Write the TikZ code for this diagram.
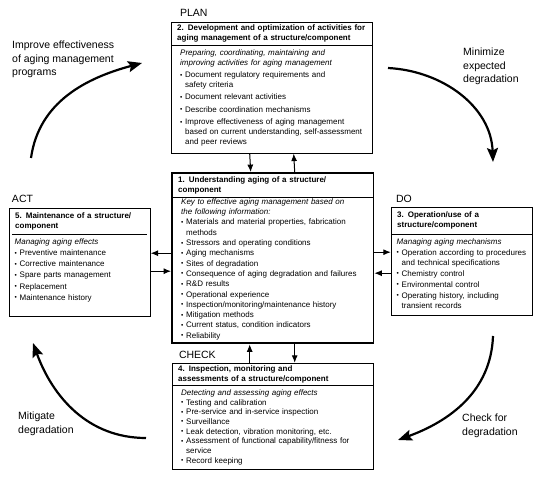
\documentclass[tikz,border=0pt]{standalone}
\usepackage{fontspec}
\setmainfont{Liberation Sans}
\usetikzlibrary{arrows.meta, positioning, fit}

\newcommand{\itm}{\par\hangindent=5pt\hangafter=1\noindent\hbox to 5pt{\raisebox{0.5pt}{\fontsize{6.5}{6.5}\selectfont\textbullet}\hfil}}
\newcommand{\lead}[1]{\noindent\textit{#1}}
\newcommand{\bodyspacing}[2]{\fontsize{8}{#1}\selectfont\setlength{\parskip}{#2}}

\begin{document}
\begin{tikzpicture}[
  x=1pt, y=1pt,
  ttl/.style={rectangle, inner xsep=6pt, inner ysep=1pt, text width=#1, align=left,
              font=\fontsize{8}{10}\selectfont\bfseries, anchor=north west},
  bdy/.style={rectangle, inner xsep=9pt, inner ysep=4pt, text width=#1, align=left,
              font=\fontsize{8}{10}\selectfont, anchor=north},
  frame/.style={rectangle, draw, inner sep=0pt},
  mainframe/.style={frame, line width=1.8pt},
  phase/.style={inner sep=0pt, font=\fontsize{10.5}{12}\selectfont},
  note/.style={inner sep=0pt, align=left, anchor=north west,
               font=\fontsize{10.5}{13.5}\selectfont},
  arrow/.style={-{Latex[length=7.5pt, width=6pt]}, line width=1pt},
  bigarrow/.style={-{Stealth[length=14pt, width=11pt, inset=2.5pt]}, line width=2.2pt}
]
\useasboundingbox (0,0) rectangle (550,477);

\node[ttl=189pt, minimum height=24pt] (t1) at (172,304) {1. Understanding aging of a structure/\\component};
\node[bdy=183pt, inner ysep=1pt, below=0pt of t1] (b1) {\bodyspacing{10.3pt}{0pt}%
  \lead{Key to effective aging management based on\newline the following information:}%
  \itm Materials and material properties, fabrication\newline methods
  \itm Stressors and operating conditions
  \itm Aging mechanisms
  \itm Sites of degradation
  \itm Consequence of aging degradation and failures
  \itm R\&D results
  \itm Operational experience
  \itm Inspection/monitoring/maintenance history
  \itm Mitigation methods
  \itm Current status, condition indicators
  \itm Reliability\par};
\coordinate (e1) at ([yshift=-146pt]t1.south);
\node[mainframe, fit=(t1)(b1)(e1)] (f1) {};
\draw (t1.south west) -- (t1.south east);

\node[ttl=189pt, minimum height=23pt] (t2) at (171,455) {2. Development and optimization of activities for\\aging management of a structure/component};
\node[bdy=183pt, below=0pt of t2] (b2) {\bodyspacing{10pt}{2.3pt}%
  \lead{Preparing, coordinating, maintaining and\newline improving activities for aging management}%
  \itm Document regulatory requirements and\newline safety criteria
  \itm Document relevant activities
  \itm Describe coordination mechanisms
  \itm Improve effectiveness of aging management\newline based on current understanding, self-assessment\newline and peer reviews\par};
\coordinate (e2) at ([yshift=-108pt]t2.south);
\node[frame, fit=(t2)(b2)(e2)] (f2) {};
\draw (t2.south west) -- (t2.south east);

\node[ttl=129pt, inner xsep=3pt, minimum height=26pt] (t5) at (12,269) {5. Maintenance of a structure/\\component};
\node[bdy=130pt, inner xsep=5.5pt, below=0pt of t5] (b5) {\bodyspacing{11.2pt}{0pt}%
  \lead{Managing aging effects}%
  \itm Preventive maintenance
  \itm Corrective maintenance
  \itm Spare parts management
  \itm Replacement
  \itm Maintenance history\par};
\coordinate (e5) at ([yshift=-82pt]t5.south);
\node[frame, fit=(t5)(b5)(e5)] (f5) {};
\draw (t5.south west) -- (t5.south east);

\node[ttl=129pt, inner xsep=6pt, minimum height=27pt] (t3) at (391,270) {3. Operation/use of a\\structure/component};
\node[bdy=130pt, inner xsep=5.5pt, below=0pt of t3] (b3) {\bodyspacing{10.5pt}{0.3pt}%
  \lead{Managing aging mechanisms}%
  \itm Operation according to procedures\newline and technical specifications
  \itm Chemistry control
  \itm Environmental control
  \itm Operating history, including\newline transient records\par};
\coordinate (e3) at ([yshift=-81pt]t3.south);
\node[frame, fit=(t3)(b3)(e3)] (f3) {};
\draw (t3.south west) -- (t3.south east);

\node[ttl=189pt, minimum height=22pt] (t4) at (172,114) {4. Inspection, monitoring and\\assessments of a structure/component};
\node[bdy=183pt, below=0pt of t4] (b4) {\bodyspacing{9.7pt}{0pt}%
  \lead{Detecting and assessing aging effects}%
  \itm Testing and calibration
  \itm Pre-service and in-service inspection
  \itm Surveillance
  \itm Leak detection, vibration monitoring, etc.
  \itm Assessment of functional capability/fitness for\newline service
  \itm Record keeping\par};
\coordinate (e4) at ([yshift=-82pt]t4.south);
\node[frame, fit=(t4)(b4)(e4)] (f4) {};
\draw (t4.south west) -- (t4.south east);

\node[phase, above right=5pt and 9pt of f2.north west] (plan) {PLAN};
\node[phase, above right=4pt and 5pt of f3.north west] (do) {DO};
\node[phase, above right=5pt and 3pt of f5.north west] (act) {ACT};
\node[phase, above right=4pt and 7pt of f4.north west] (check) {CHECK};

\draw[arrow] ([xshift=-22pt]f2.south) -- ([xshift=-22pt]f1.north);
\draw[arrow] ([xshift=22pt]f1.north) -- ([xshift=22pt]f2.south);
\draw[arrow] ([xshift=-23pt]f4.north) -- ([xshift=-23pt]f1.south);
\draw[arrow] ([xshift=22pt]f1.south) -- ([xshift=22pt]f4.north);
\draw[arrow] ([yshift=5pt]f1.west) -- ([yshift=5pt]f1.west -| f5.east);
\draw[arrow] ([yshift=-13pt]f1.west -| f5.east) -- ([yshift=-13pt]f1.west);
\draw[arrow] ([yshift=6pt]f1.east) -- ([yshift=6pt]f1.east -| f3.west);
\draw[arrow] ([yshift=-15pt]f1.east -| f3.west) -- ([yshift=-15pt]f1.east);

\coordinate (imp-a) at (31,319);
\coordinate (imp-b) at (142,414);
\coordinate (min-a) at (388,409);
\coordinate (min-b) at (493,315);
\coordinate (chk-a) at (493,141);
\coordinate (chk-b) at (398,37);
\coordinate (mit-a) at (146,39);
\coordinate (mit-b) at (33,134);

\draw[bigarrow] (imp-a) to[out=82, in=195] (imp-b);
\draw[bigarrow] (min-a) to[out=-3, in=92] (min-b);
\draw[bigarrow] (chk-a) to[out=-92, in=20] (chk-b);
\draw[bigarrow] (mit-a) to[out=180, in=-70] (mit-b);

\node[note] (imp) at (12,436) {Improve effectiveness\\of aging management\\programs};
\node[note] (min) at (463,429) {Minimize\\expected\\degradation};
\node[note] (chk) at (462,63) {Check for\\degradation};
\node[note] (mit) at (18,65) {Mitigate\\degradation};

\end{tikzpicture}
\end{document}
